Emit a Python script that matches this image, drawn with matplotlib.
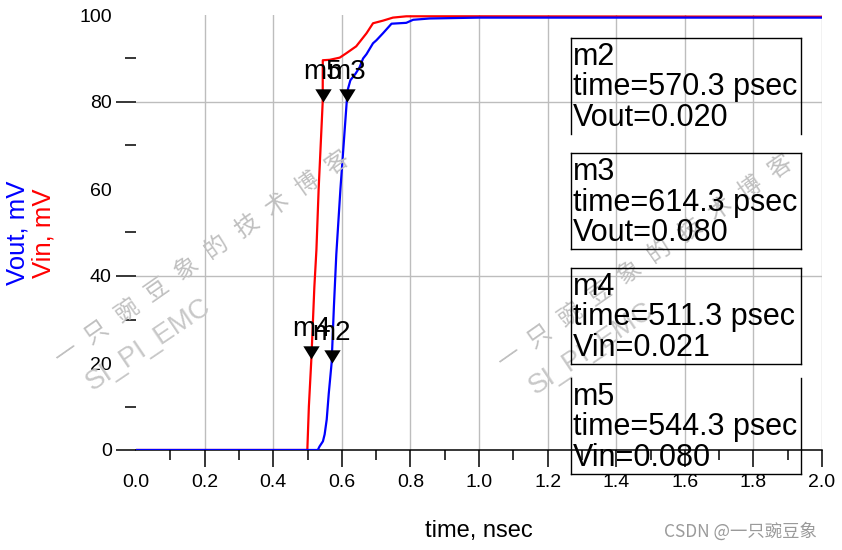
import numpy as np
import matplotlib
matplotlib.use("Agg")
import matplotlib.pyplot as plt
from matplotlib.lines import Line2D

plt.rcParams['font.family'] = ['Liberation Sans', 'Noto Sans CJK SC', 'DejaVu Sans']

# ---- data (time in nsec, voltage in mV) ----
t_vin = [0.0, 0.4995, 0.504, 0.5113, 0.520, 0.526, 0.5325, 0.5443, 0.5446,
         0.565, 0.594, 0.613, 0.642, 0.672, 0.691, 0.720, 0.749, 0.788, 1.0, 2.0]
vin = [0.0, 0.0, 10.0, 21.0, 37.5, 46.0, 60.0, 80.0, 89.6,
       89.7, 90.2, 91.2, 92.8, 95.8, 98.1, 98.7, 99.4, 99.7, 99.7, 99.6]

t_vout = [0.0, 0.530, 0.535, 0.545, 0.550, 0.556, 0.562, 0.5703, 0.577, 0.584,
          0.596, 0.6143, 0.618, 0.625, 0.640, 0.652, 0.662, 0.672, 0.691,
          0.701, 0.720, 0.745, 0.788, 0.808, 0.856, 1.0, 2.0]
vout = [0.0, 0.0, 0.8, 2.0, 3.6, 7.0, 13.0, 20.0, 33.0, 45.0,
        60.0, 80.0, 83.0, 85.0, 86.5, 88.0, 90.0, 91.0, 93.5,
        94.2, 95.8, 98.0, 98.2, 98.9, 99.2, 99.4, 99.4]

marker_names = ['m2', 'm3', 'm4', 'm5']
marker_time_ps = [570.3, 614.3, 511.3, 544.3]
marker_signal = ['Vout', 'Vout', 'Vin', 'Vin']
marker_value_v = [0.020, 0.080, 0.021, 0.080]

x_ticks = [0.0, 0.2, 0.4, 0.6, 0.8, 1.0, 1.2, 1.4, 1.6, 1.8, 2.0]
y_ticks = [0, 20, 40, 60, 80, 100]

W, H = 842, 550


def fx(px):
    return px / W


def fy(py):
    return 1 - py / H


fig = plt.figure(figsize=(W / 100, H / 100), dpi=100)
ax = fig.add_axes([fx(136), fy(450), (822 - 136) / W, (450 - 15) / H])

ax.plot(t_vin, vin, color='red', lw=1.6, zorder=3)
ax.plot(t_vout, vout, color='blue', lw=1.6, zorder=4)

ax.set_xlim(0, 2.0)
ax.set_ylim(0, 100)

# ticks
ax.set_xticks(x_ticks)
ax.set_xticklabels([f'{v:.1f}' for v in x_ticks])
ax.set_xticks(np.arange(0.1, 2.0, 0.2), minor=True)
ax.set_yticks(y_ticks)
ax.set_yticklabels([str(v) for v in y_ticks])
ax.set_yticks([10, 30, 50, 70, 90], minor=True)

ax.tick_params(axis='x', which='major', direction='out', length=12.5, width=1.1,
               pad=5, labelsize=14)
ax.tick_params(axis='x', which='minor', direction='out', length=7, width=1.1)
ax.tick_params(axis='y', which='major', direction='out', length=14.5, width=1.1,
               pad=3, labelsize=14)
ax.tick_params(axis='y', which='minor', direction='out', length=8, width=1.1)

ax.grid(True, which='major', color='#bdbdbd', lw=1.0)
for v, tk in zip(y_ticks, ax.yaxis.get_major_ticks()):
    if v in (20, 60, 100):
        tk.tick1line.set_visible(False)
        tk.gridline.set_visible(False)
    if v == 0:
        tk.gridline.set_visible(False)
for v, tk in zip(x_ticks, ax.xaxis.get_major_ticks()):
    if v == 0.0:
        tk.tick1line.set_visible(False)
        tk.gridline.set_visible(False)

for s in ('top', 'right', 'left'):
    ax.spines[s].set_visible(False)
ax.spines['bottom'].set_linewidth(1.1)

# axis labels
fig.text(fx(479), fy(531), 'time, nsec', ha='center', va='center', fontsize=17)
fig.text(fx(18), fy(233), 'Vout, mV', color='blue', rotation=90,
         ha='center', va='center', fontsize=18.5)
fig.text(fx(44), fy(233), 'Vin, mV', color='red', rotation=90,
         ha='center', va='center', fontsize=18.5)

# markers on the curves
tri = [(-0.62, 1.0), (0.62, 1.0), (0.0, 0.0)]
for name, tp, val in zip(marker_names, marker_time_ps, marker_value_v):
    tx = tp / 1000.0
    vy = val * 1000.0
    ax.plot([tx], [vy], marker=tri, markersize=19, color='black',
            markeredgewidth=0, zorder=6, clip_on=False)
    ax.annotate(name, (tx, vy), xytext=(0, 23), textcoords='offset pixels',
                ha='center', va='baseline', fontsize=20, zorder=7)

# readout boxes
box_tops = [38, 153, 268, 378]
box_h = 96
for i, (name, tp, sig, val) in enumerate(zip(marker_names, marker_time_ps,
                                             marker_signal, marker_value_v)):
    top = box_tops[i]
    bot = top + box_h
    left, right = 571, 801
    segs = [[(left, top), (left, bot)], [(right, top), (right, bot)]]
    if name != 'm5':
        segs.append([(left, top), (right, top)])
    if name != 'm2':
        segs.append([(left, bot), (right, bot)])
    for (x0, y0), (x1, y1) in segs:
        fig.add_artist(Line2D([fx(x0), fx(x1)], [fy(y0), fy(y1)],
                              color='black', lw=1.0, zorder=8))
    lines = [name, f'time={tp:.1f} psec', f'{sig}={val:.3f}']
    for j, txt in enumerate(lines):
        fig.text(fx(573), fy(top + 27 + 30.5 * j), txt, ha='left',
                 va='baseline', fontsize=22, zorder=9)

# blog watermarks
wm_chars = '一只豌豆象的技术博客'
for dx, dy in [(0, 0), (443, 4)]:
    x0, y0 = 67 + dx, 353 + dy
    for k, ch in enumerate(wm_chars):
        fig.text(fx(x0 + 30.0 * k), fy(y0 - 21.1 * k), ch, color='#c0c0c0',
                 fontsize=17, rotation=35, ha='center', va='center',
                 family=['Noto Sans CJK SC', 'DejaVu Sans'], zorder=1)
    fig.text(fx(148 + dx), fy(345 + dy), 'SI_PI_EMC', color='#c8c8c8',
             fontsize=20, rotation=34, ha='center', va='center', zorder=1)

fig.text(fx(740), fy(531), 'CSDN @一只豌豆象', color='#9a9a9a', fontsize=12.5,
         ha='center', va='center', family=['Noto Sans CJK SC', 'DejaVu Sans'])

fig.savefig('out.png', dpi=100)
